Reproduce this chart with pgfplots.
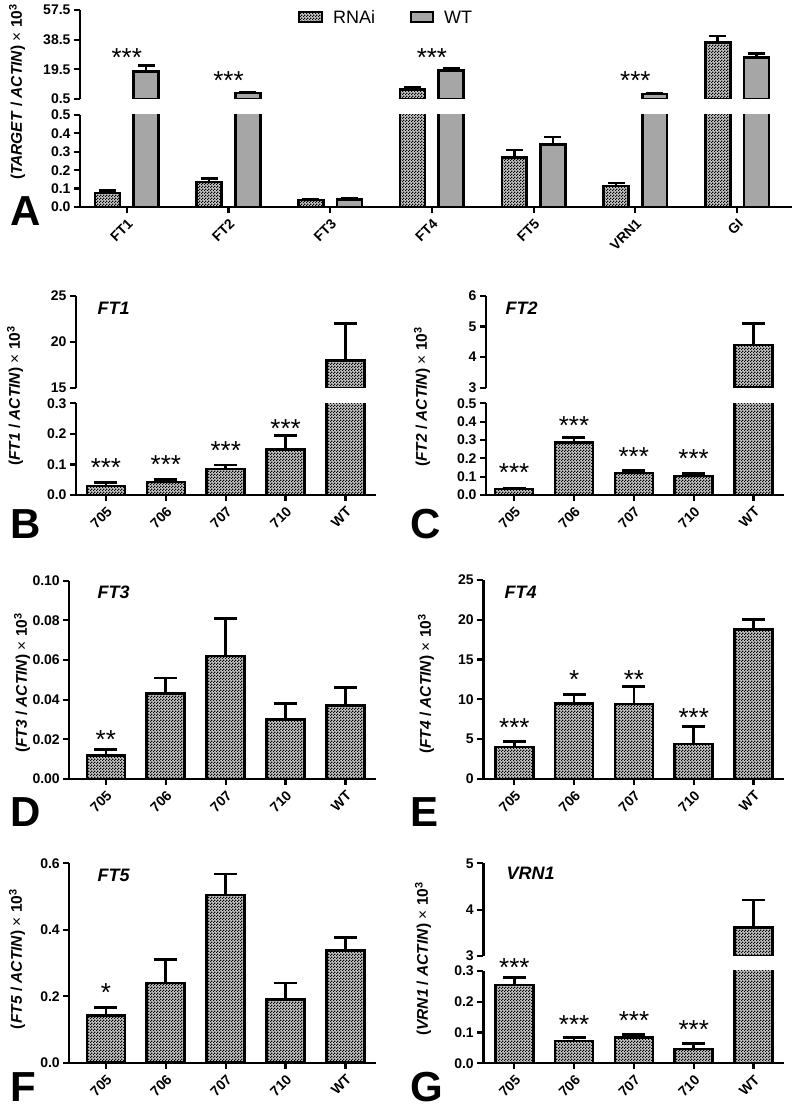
\documentclass[border=0pt]{standalone}
\usepackage{pgfplots}
\pgfplotsset{compat=1.18}
\usepackage{pgfplotstable}
\usepackage{fontspec}
\setmainfont{Liberation Sans}
\usetikzlibrary{patterns}

\pgfdeclarepatternformonly{checker}{\pgfpointorigin}{\pgfqpoint{3pt}{3pt}}{\pgfqpoint{3pt}{3pt}}{%
  \pgfpathrectangle{\pgfpointorigin}{\pgfqpoint{1.5pt}{1.5pt}}%
  \pgfpathrectangle{\pgfqpoint{1.5pt}{1.5pt}}{\pgfqpoint{1.5pt}{1.5pt}}%
  \pgfusepath{fill}%
}

% ---- Panel A: all values (lower segment) ----
\pgfplotstableread{
x y e
0 0.077 0.011
1 0.136 0.018
2 0.039 0.004
3 6.7 1.0
4 0.27 0.04
5 0.113 0.017
6 36.8 4.0
}\tblArnai
\pgfplotstableread{
x y e
0 18.0 4.0
1 4.4 0.7
2 0.040 0.005
3 18.9 1.2
4 0.34 0.04
5 3.6 0.6
6 27.0 2.8
}\tblAwt
% ---- Panel A: bars that reach the upper segment ----
\pgfplotstableread{
x y e
3 6.7 1.0
6 36.8 4.0
}\tblArnaiUp
\pgfplotstableread{
x y e
0 18.0 4.0
1 4.4 0.7
3 18.9 1.2
5 3.6 0.6
6 27.0 2.8
}\tblAwtUp

\pgfplotstableread{
x y e
0 0.030 0.010
1 0.042 0.008
2 0.085 0.013
3 0.148 0.047
4 18.0 4.0
}\tblB
\pgfplotstableread{
x y e
4 18.0 4.0
}\tblBup
\pgfplotstableread{
x y e
0 0.032 0.006
1 0.285 0.027
2 0.120 0.015
3 0.103 0.014
4 4.40 0.70
}\tblC
\pgfplotstableread{
x y e
4 4.40 0.70
}\tblCup
\pgfplotstableread{
x y e
0 0.012 0.003
1 0.043 0.008
2 0.062 0.019
3 0.030 0.008
4 0.037 0.009
}\tblD
\pgfplotstableread{
x y e
0 4.0 0.7
1 9.5 1.1
2 9.4 2.2
3 4.4 2.2
4 18.8 1.2
}\tblE
\pgfplotstableread{
x y e
0 0.142 0.024
1 0.240 0.070
2 0.505 0.063
3 0.190 0.050
4 0.338 0.039
}\tblF
\pgfplotstableread{
x y e
0 0.254 0.025
1 0.072 0.012
2 0.084 0.010
3 0.047 0.018
4 3.61 0.60
}\tblG
\pgfplotstableread{
x y e
4 3.61 0.60
}\tblGup

\pgfplotsset{
  base/.style={
    scale only axis, anchor=south west,
    axis line style={line width=2.4pt, black},
    tick style={line width=2.2pt, black},
    tick align=outside, major tick length=6pt,
    tick label style={font=\fontsize{14}{14}\selectfont\bfseries},
    /pgf/number format/assume math mode=true,
    clip mode=individual, scaled y ticks=false,
  },
  lowerax/.style={base, axis x line*=bottom, axis y line*=left,
    xtick={0,1,2,3,4}, xticklabels={705,706,707,710,WT},
    xticklabel style={rotate=45, anchor=north east}},
  upperax/.style={base, axis x line=none, axis y line*=left},
  prec/.style={yticklabel style={/pgf/number format/.cd, fixed, fixed zerofill, precision=#1}},
  rnai/.style={ybar, draw=black, line width=2.6pt, preaction={fill=black!22}, pattern=checker, pattern color=black},
  wt/.style={ybar, draw=black, line width=2.6pt, fill=black!35},
  err/.style={error bars/.cd, y dir=plus, y explicit,
    error bar style={line width=2.6pt, black, solid},
    error mark options={rotate=90, line width=2.6pt, black, solid, mark size=#1}},
}
\tikzset{
  stars/.style={anchor=base, yshift=-15pt, font=\fontsize{26}{26}\selectfont},
  ylab/.style={rotate=90, font=\fontsize{15.5}{16}\selectfont\bfseries},
  ttl/.style={anchor=west, font=\fontsize{18}{18}\selectfont\bfseries\itshape},
  letter/.style={anchor=base west, inner sep=0pt, font=\fontsize{42}{42}\selectfont\bfseries},
}

\begin{document}
\begin{tikzpicture}
\useasboundingbox (0,0) rectangle (795pt,1106pt);

% ================= Panel A =================
\begin{axis}[upperax, at={(80pt,1007pt)}, width=712pt, height=89pt,
  xmin=-0.46, xmax=6.54, ymin=0.5, ymax=57.5, ytick={0.5,19.5,38.5,57.5}, prec=1]
\addplot[rnai, bar width=0.245, bar shift=0, err=8.5pt] table[x expr=\thisrow{x}-0.19,y=y,y error=e]{\tblArnaiUp};
\addplot[wt, bar width=0.245, bar shift=0, err=8.5pt] table[x expr=\thisrow{x}+0.19,y=y,y error=e]{\tblAwtUp};
\node[stars] at (axis cs:0,30.6) {***};
\node[stars] at (axis cs:1,15.9) {***};
\node[stars] at (axis cs:3,30.6) {***};
\node[stars] at (axis cs:5,15.9) {***};
\end{axis}
\begin{axis}[base, axis x line*=bottom, axis y line*=left, at={(80pt,899pt)}, width=712pt, height=92pt,
  xmin=-0.46, xmax=6.54, ymin=0, ymax=0.5, ytick={0,0.1,0.2,0.3,0.4,0.5}, prec=1,
  xtick={0,1,2,3,4,5,6}, xticklabels={FT1,FT2,FT3,FT4,FT5,VRN1,GI},
  xticklabel style={rotate=45, anchor=north east}]
\addplot[rnai, bar width=0.245, bar shift=0, err=8.5pt] table[x expr=\thisrow{x}-0.19,y=y,y error=e]{\tblArnai};
\addplot[wt, bar width=0.245, bar shift=0, err=8.5pt] table[x expr=\thisrow{x}+0.19,y=y,y error=e]{\tblAwt};
\end{axis}

% legend
\draw[line width=2pt, preaction={fill=black!22}, pattern=checker, pattern color=black] (299pt,1084pt) rectangle (322pt,1094pt);
\node[anchor=west, font=\fontsize{18}{18}\selectfont, inner sep=0pt] at (333pt,1089pt) {RNAi};
\draw[line width=2pt, fill=black!35] (411pt,1084pt) rectangle (433pt,1094pt);
\node[anchor=west, font=\fontsize{18}{18}\selectfont, inner sep=0pt] at (444pt,1089pt) {WT};

\node[ylab] at (17pt,1014pt) {(\textit{TARGET} / \textit{ACTIN}) {\mdseries ×} 10\textsuperscript{3}};
\node[letter] at (10pt,880pt) {A};

% ================= Panel B =================
\begin{axis}[upperax, at={(76pt,718pt)}, width=300pt, height=92pt,
  xmin=-0.5, xmax=4.51, ymin=15, ymax=25, ytick={15,20,25}]
\addplot[rnai, bar width=0.635, bar shift=0, err=11.5pt] table[x=x,y=y,y error=e]{\tblBup};
\end{axis}
\begin{axis}[lowerax, at={(76pt,611pt)}, width=300pt, height=91.7pt,
  xmin=-0.5, xmax=4.51, ymin=0, ymax=0.3, ytick={0,0.1,0.2,0.3}, prec=1]
\addplot[rnai, bar width=0.635, bar shift=0, err=11.5pt] table[x=x,y=y,y error=e]{\tblB};
\node[stars] at (axis cs:0,0.108) {***};
\node[stars] at (axis cs:1,0.121) {***};
\node[stars] at (axis cs:2,0.164) {***};
\node[stars] at (axis cs:3,0.237) {***};
\end{axis}
\node[ttl] at (94pt,798pt) {FT1};
\node[ylab] at (15pt,710pt) {(\textit{FT1} / \textit{ACTIN}) {\mdseries ×} 10\textsuperscript{3}};
\node[letter] at (10pt,567pt) {B};

% ================= Panel C =================
\begin{axis}[upperax, at={(486pt,718.3pt)}, width=298pt, height=91.7pt,
  xmin=-0.47, xmax=4.51, ymin=3, ymax=6, ytick={3,4,5,6}]
\addplot[rnai, bar width=0.635, bar shift=0, err=11.5pt] table[x=x,y=y,y error=e]{\tblCup};
\end{axis}
\begin{axis}[lowerax, at={(486pt,611pt)}, width=298pt, height=91.7pt,
  xmin=-0.47, xmax=4.51, ymin=0, ymax=0.5, ytick={0,0.1,0.2,0.3,0.4,0.5}, prec=1]
\addplot[rnai, bar width=0.635, bar shift=0, err=11.5pt] table[x=x,y=y,y error=e]{\tblC};
\node[stars] at (axis cs:0,0.158) {***};
\node[stars] at (axis cs:1,0.413) {***};
\node[stars] at (axis cs:2,0.245) {***};
\node[stars] at (axis cs:3,0.233) {***};
\end{axis}
\node[ttl] at (502pt,798pt) {FT2};
\node[ylab] at (422pt,709pt) {(\textit{FT2} / \textit{ACTIN}) {\mdseries ×} 10\textsuperscript{3}};
\node[letter] at (410pt,567pt) {C};

% ================= Panel D =================
\begin{axis}[lowerax, at={(69.3pt,327pt)}, width=306.7pt, height=198.3pt,
  xmin=-0.61, xmax=4.51, ymin=0, ymax=0.1, ytick={0,0.02,0.04,0.06,0.08,0.1}, prec=2]
\addplot[rnai, bar width=0.635, bar shift=0, err=11.5pt] table[x=x,y=y,y error=e]{\tblD};
\node[stars] at (axis cs:0,0.023) {**};
\end{axis}
\node[ttl] at (94pt,514pt) {FT3};
\node[ylab] at (22pt,423pt) {(\textit{FT3} / \textit{ACTIN}) {\mdseries ×} 10\textsuperscript{3}};
\node[letter] at (10pt,279pt) {D};

% ================= Panel E =================
\begin{axis}[lowerax, at={(483.3pt,327pt)}, width=300.7pt, height=199pt,
  xmin=-0.52, xmax=4.51, ymin=0, ymax=25, ytick={0,5,10,15,20,25}]
\addplot[rnai, bar width=0.635, bar shift=0, err=11.5pt] table[x=x,y=y,y error=e]{\tblE};
\node[stars] at (axis cs:0,7.2) {***};
\node[stars] at (axis cs:1,13.3) {*};
\node[stars] at (axis cs:2,13.3) {**};
\node[stars] at (axis cs:3,8.54) {***};
\end{axis}
\node[ttl] at (501pt,514pt) {FT4};
\node[ylab] at (426pt,422pt) {(\textit{FT4} / \textit{ACTIN}) {\mdseries ×} 10\textsuperscript{3}};
\node[letter] at (410pt,279pt) {E};

% ================= Panel F =================
\begin{axis}[lowerax, at={(69.3pt,43.3pt)}, width=306.7pt, height=199.4pt,
  xmin=-0.61, xmax=4.51, ymin=0, ymax=0.6, ytick={0,0.2,0.4,0.6}, prec=1]
\addplot[rnai, bar width=0.635, bar shift=0, err=11.5pt] table[x=x,y=y,y error=e]{\tblF};
\node[stars] at (axis cs:0,0.229) {*};
\end{axis}
\node[ttl] at (94pt,231pt) {FT5};
\node[ylab] at (17pt,147pt) {(\textit{FT5} / \textit{ACTIN}) {\mdseries ×} 10\textsuperscript{3}};
\node[letter] at (10pt,5pt) {F};

% ================= Panel G =================
\begin{axis}[upperax, at={(483.3pt,150pt)}, width=300.7pt, height=92.7pt,
  xmin=-0.52, xmax=4.51, ymin=3, ymax=5, ytick={3,4,5}]
\addplot[rnai, bar width=0.635, bar shift=0, err=11.5pt] table[x=x,y=y,y error=e]{\tblGup};
\end{axis}
\begin{axis}[lowerax, at={(483.3pt,42.7pt)}, width=300.7pt, height=92.3pt,
  xmin=-0.52, xmax=4.51, ymin=0, ymax=0.3, ytick={0,0.1,0.2,0.3}, prec=1]
\addplot[rnai, bar width=0.635, bar shift=0, err=11.5pt] table[x=x,y=y,y error=e]{\tblG};
\node[stars] at (axis cs:0,0.33) {***};
\node[stars] at (axis cs:1,0.146) {***};
\node[stars] at (axis cs:2,0.159) {***};
\node[stars] at (axis cs:3,0.128) {***};
\end{axis}
\node[ttl] at (503pt,233pt) {VRN1};
\node[ylab] at (423pt,147pt) {(\textit{VRN1} / \textit{ACTIN}) {\mdseries ×} 10\textsuperscript{3}};
\node[letter] at (410pt,5pt) {G};

\end{tikzpicture}
\end{document}
